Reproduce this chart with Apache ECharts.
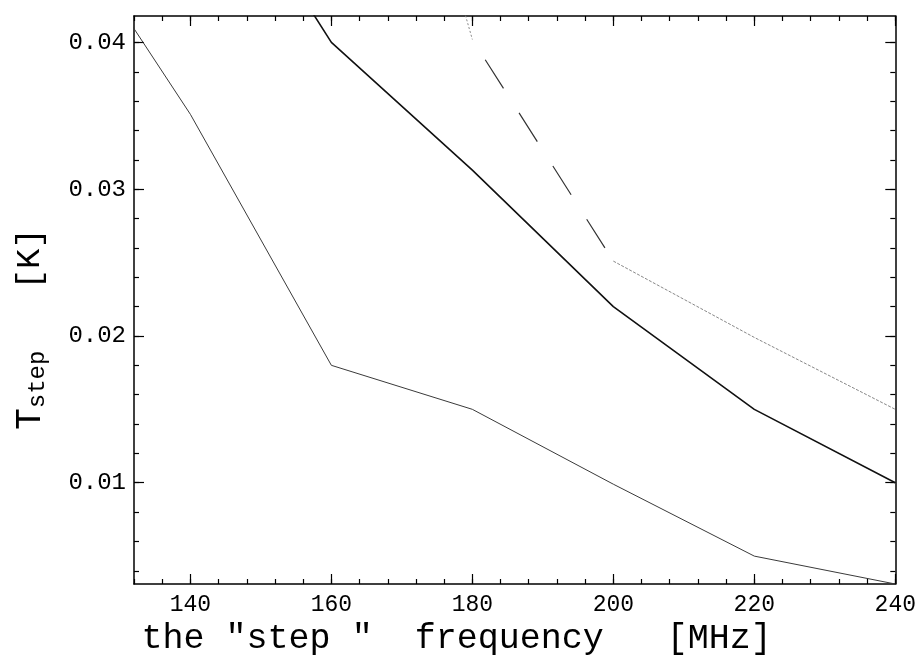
<!DOCTYPE html>
<html>
<head>
<meta charset="utf-8">
<script src="https://cdn.jsdelivr.net/npm/echarts@6/dist/echarts.min.js"></script>
<style>
html,body{margin:0;padding:0;background:#fff;}
#c{width:919px;height:661px;}
</style>
</head>
<body>
<div id="c"></div>
<script>
// ---- data ----
const freqLower = [130, 140, 160, 180, 200, 220, 240];
const tLower    = [0.0424, 0.0351, 0.0180, 0.0150, 0.0099, 0.0050, 0.0031];

const freqMid = [140, 160, 180, 200, 220, 240];
const tMid    = [0.0551, 0.0400, 0.0313, 0.0220, 0.0150, 0.0100];

const freqUpper = [160, 180, 200, 220, 240];
const tUpper    = [0.0738, 0.0402, 0.0251, 0.0199, 0.0150];

const xMajorTicks = [140, 160, 180, 200, 220, 240];
const yMajorTicks = [0.01, 0.02, 0.03, 0.04];
const yMinorTicks = [0.004, 0.006, 0.008, 0.010, 0.012, 0.014, 0.016, 0.018, 0.020,
                     0.022, 0.024, 0.026, 0.028, 0.030, 0.032, 0.034, 0.036, 0.038, 0.040];

const xName = 'the "step "  frequency   [MHz]';

// ---- helpers ----
const pairs = (xs, ys) => xs.map((x, i) => [x, ys[i]]);
const FONT = 'Liberation Mono';
const XMIN = 132, XMAX = 240, YMIN = 0.0031, YMAX = 0.0418;

const axisLineStyle = { show: true, lineStyle: { color: '#000', width: 1.5 } };
const noLine = { show: false };

function xAx(pos, major, labelled) {
  const a = {
    type: 'value', position: pos, min: XMIN, max: XMAX,
    axisLine: major ? noLine : axisLineStyle,
    splitLine: { show: false },
    axisTick: { show: true, inside: true, length: major ? 10 : 5, lineStyle: { color: '#000', width: 1.2 } },
    axisLabel: { show: false }
  };
  if (major) {
    a.axisTick.customValues = xMajorTicks;
    if (labelled) {
      a.axisLabel = { show: true, customValues: xMajorTicks, margin: 9,
        fontFamily: FONT, fontSize: 23, color: '#000' };
      a.name = xName;
      a.nameLocation = 'middle';
      a.nameGap = 30;
      a.nameTextStyle = { fontFamily: FONT, fontSize: 35, color: '#000', padding: [0, 116, 0, 0] };
    }
  } else {
    a.interval = 4;
  }
  return a;
}

function yAx(pos, major, labelled) {
  const a = {
    type: 'value', position: pos, min: YMIN, max: YMAX,
    axisLine: major ? noLine : axisLineStyle,
    splitLine: { show: false },
    axisTick: { show: true, inside: true, length: major ? 10 : 5,
      customValues: major ? yMajorTicks : yMinorTicks,
      lineStyle: { color: '#000', width: 1.2 } },
    axisLabel: { show: false }
  };
  if (labelled) {
    a.axisLabel = { show: true, customValues: yMajorTicks, margin: 8,
      fontFamily: FONT, fontSize: 24, color: '#000',
      formatter: v => Number(v).toFixed(2) };
    a.name = '{t|T}{s|step}{k|   [K]}';
    a.nameLocation = 'middle';
    a.nameRotate = 90;
    a.nameGap = 84;
    a.nameTextStyle = {
      color: '#000', padding: [0, 58, 0, 0],
      rich: {
        t: { fontFamily: FONT, fontSize: 36, lineHeight: 40, verticalAlign: 'middle', color: '#000' },
        s: { fontFamily: FONT, fontSize: 24, lineHeight: 24, verticalAlign: 'bottom', color: '#000' },
        k: { fontFamily: FONT, fontSize: 34, lineHeight: 40, verticalAlign: 'middle', color: '#000' }
      }
    };
  }
  return a;
}

function line(data, style) {
  return { type: 'line', xAxisIndex: 0, yAxisIndex: 0, data: data,
    symbol: 'none', showSymbol: false, clip: true, silent: true,
    lineStyle: style, z: 3 };
}

const chart = echarts.init(document.getElementById('c'), null, { renderer: 'canvas' });
chart.setOption({
  animation: false,
  backgroundColor: '#fff',
  grid: { left: 134, right: 23.5, top: 16, bottom: 77, containLabel: false },
  xAxis: [xAx('bottom', false), xAx('bottom', true, true), xAx('top', false), xAx('top', true)],
  yAxis: [yAx('left', false), yAx('left', true, true), yAx('right', false), yAx('right', true)],
  series: [
    line(pairs(freqLower, tLower), { color: '#3a3a3a', width: 1 }),
    line(pairs(freqMid, tMid), { color: '#111', width: 1.6 }),
    line(pairs(freqUpper.slice(0, 2), tUpper.slice(0, 2)), { color: '#888', width: 1, type: [2, 2] }),
    line(pairs(freqUpper.slice(1, 3), tUpper.slice(1, 3)), { color: '#333', width: 1.2, type: [34, 29], dashOffset: 39 }),
    line(pairs(freqUpper.slice(2), tUpper.slice(2)), { color: '#888', width: 1, type: [3, 1.5] })
  ]
});
</script>
</body>
</html>
